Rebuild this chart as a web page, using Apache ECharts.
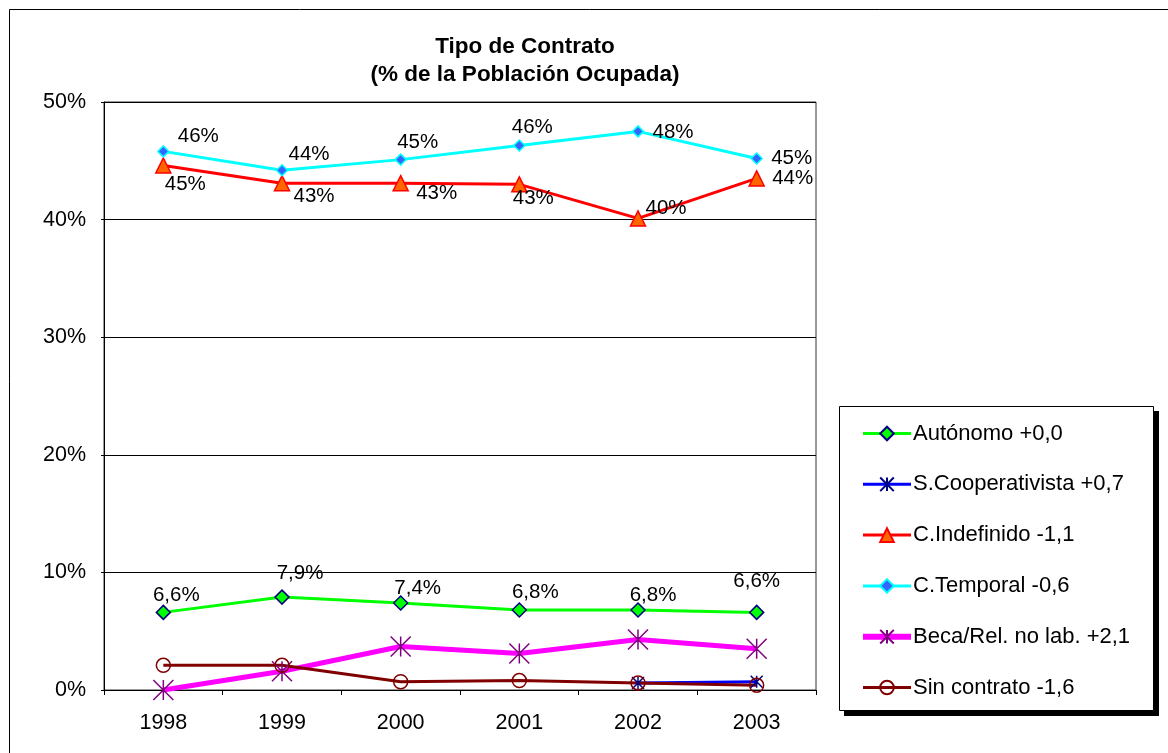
<!DOCTYPE html>
<html>
<head>
<meta charset="utf-8">
<script src="https://cdn.jsdelivr.net/npm/echarts@6/dist/echarts.min.js"></script>
<style>
  html, body { margin: 0; padding: 0; background: #fff; }
  #chart { width: 1168px; height: 753px; }
</style>
</head>
<body>
<div id="chart"></div>
<script>
const years = ['1998', '1999', '2000', '2001', '2002', '2003']
const autonomo = [6.6, 7.9, 7.4, 6.8, 6.8, 6.6]
const cooperativista = [null, null, null, null, 0.6, 0.7]
const indefinido = [44.6, 43.1, 43.1, 43.0, 40.1, 43.5]
const temporal = [45.8, 44.2, 45.1, 46.3, 47.5, 45.2]
const beca = [0.0, 1.6, 3.7, 3.1, 4.3, 3.5]
const sinContrato = [2.1, 2.1, 0.7, 0.8, 0.6, 0.4]
const yTicks = [0, 10, 20, 30, 40, 50]

// where each data label sits, relative to its point (px)
const temporalLabelOffsets = [[35, -15], [27, -16], [17, -17], [13, -18], [35, 1], [35, 0]]
const indefinidoLabelOffsets = [[22, 19], [32, 13], [36, 10], [14, 14], [28, -10], [36, 0]]
const autonomoLabelOffsets = [[13, -17], [18, -24], [17, -15], [16, -18], [15, -15], [0, -31]]

const FONT = 'Liberation Sans, Arial, sans-serif'
const star = 'path://M0,0L20,20M20,0L0,20M10,0L10,20'

function withLabels(values, offsets, fmt) {
  return values.map((v, i) => ({
    value: v,
    label: {
      show: true,
      position: 'inside',
      offset: offsets[i],
      align: 'center',
      verticalAlign: 'middle',
      color: '#000',
      fontSize: 20.5,
      fontFamily: FONT,
      formatter: () => fmt(v)
    }
  }))
}
const intPct = v => Math.round(v) + '%'
const decPct = v => v.toFixed(1).replace('.', ',') + '%'

let myChart = echarts.init(document.getElementById('chart'))
myChart.setOption({
  animation: false,
  backgroundColor: '#fff',
  textStyle: { fontFamily: FONT },
  title: {
    text: 'Tipo de Contrato\n(% de la Población Ocupada)',
    left: 520,
    top: 28,
    textAlign: 'center',
    textStyle: {
      fontSize: 22.5,
      fontWeight: 'bold',
      color: '#000',
      lineHeight: 28,
      fontFamily: FONT
    }
  },
  graphic: [
    {
      type: 'rect',
      shape: { x: 9.5, y: 9.5, width: 1300, height: 900 },
      style: { fill: 'none', stroke: '#000', lineWidth: 1 },
      silent: true
    },
    {
      type: 'rect',
      shape: { x: 844, y: 411, width: 315, height: 305 },
      style: { fill: '#000' },
      silent: true,
      z: -1
    },
    {
      type: 'rect',
      shape: { x: 839.5, y: 406.5, width: 314, height: 304 },
      style: { fill: '#fff', stroke: '#000', lineWidth: 1 },
      silent: true,
      z: 0
    }
  ],
  legend: {
    orient: 'vertical',
    left: 840,
    top: 406,
    padding: [16.5, 10, 10, 20],
    itemWidth: 48,
    itemHeight: 17,
    itemGap: 28.8,
    lineStyle: { width: 3 },
    data: [
      'Autónomo +0,0',
      'S.Cooperativista +0,7',
      'C.Indefinido -1,1',
      'C.Temporal -0,6',
      { name: 'Beca/Rel. no lab. +2,1', lineStyle: { width: 6 } },
      'Sin contrato -1,6'
    ],
    textStyle: { fontSize: 22, color: '#000', fontFamily: FONT, padding: [0, 0, 0, -3] },
    z: 5
  },
  grid: {
    left: 104,
    right: 352,
    top: 102,
    bottom: 63,
    show: true,
    borderColor: '#333',
    borderWidth: 1
  },
  xAxis: {
    type: 'category',
    data: years,
    boundaryGap: true,
    axisLine: { lineStyle: { color: '#000', width: 1 } },
    axisTick: { show: true, length: 5, lineStyle: { color: '#000' } },
    axisLabel: { color: '#000', fontSize: 21.5, fontFamily: FONT, margin: 22 },
    splitLine: { show: false }
  },
  yAxis: {
    type: 'value',
    min: yTicks[0],
    max: yTicks[yTicks.length - 1],
    interval: 10,
    axisLine: { show: true, lineStyle: { color: '#000', width: 1 } },
    axisTick: { show: true, length: 3, lineStyle: { color: '#000' } },
    axisLabel: { color: '#000', fontSize: 21.5, fontFamily: FONT, margin: 18, formatter: '{value}%' },
    splitLine: { show: true, lineStyle: { color: '#000', width: 1 } }
  },
  series: [
    {
      name: 'Autónomo +0,0',
      type: 'line',
      data: withLabels(autonomo, autonomoLabelOffsets, decPct),
      symbol: 'diamond',
      symbolSize: 14,
      lineStyle: { color: '#00ff00', width: 3 },
      itemStyle: { color: '#00ff00', borderColor: '#000080', borderWidth: 1.5 },
      emphasis: { disabled: true }
    },
    {
      name: 'S.Cooperativista +0,7',
      type: 'line',
      data: cooperativista,
      symbol: star,
      symbolSize: 12,
      connectNulls: false,
      lineStyle: { color: '#0000ff', width: 3 },
      itemStyle: { color: 'transparent', borderColor: '#000080', borderWidth: 1.5 },
      emphasis: { disabled: true }
    },
    {
      name: 'C.Indefinido -1,1',
      type: 'line',
      data: withLabels(indefinido, indefinidoLabelOffsets, intPct),
      symbol: 'triangle',
      symbolSize: 15,
      lineStyle: { color: '#ff0000', width: 3 },
      itemStyle: { color: '#ff6600', borderColor: '#ff0000', borderWidth: 1.5 },
      emphasis: { disabled: true }
    },
    {
      name: 'C.Temporal -0,6',
      type: 'line',
      data: withLabels(temporal, temporalLabelOffsets, intPct),
      symbol: 'diamond',
      symbolSize: 11,
      lineStyle: { color: '#00ffff', width: 3 },
      itemStyle: { color: '#3366ff', borderColor: '#00ffff', borderWidth: 1.5 },
      emphasis: { disabled: true }
    },
    {
      name: 'Beca/Rel. no lab. +2,1',
      type: 'line',
      data: beca,
      symbol: star,
      symbolSize: 20,
      lineStyle: { color: '#ff00ff', width: 5 },
      itemStyle: { color: 'transparent', borderColor: '#800080', borderWidth: 1.5 },
      emphasis: { disabled: true }
    },
    {
      name: 'Sin contrato -1,6',
      type: 'line',
      data: sinContrato,
      symbol: 'circle',
      symbolSize: 14,
      lineStyle: { color: '#800000', width: 3 },
      itemStyle: { color: 'transparent', borderColor: '#800000', borderWidth: 1.5 },
      emphasis: { disabled: true }
    }
  ]
})
</script>
</body>
</html>
